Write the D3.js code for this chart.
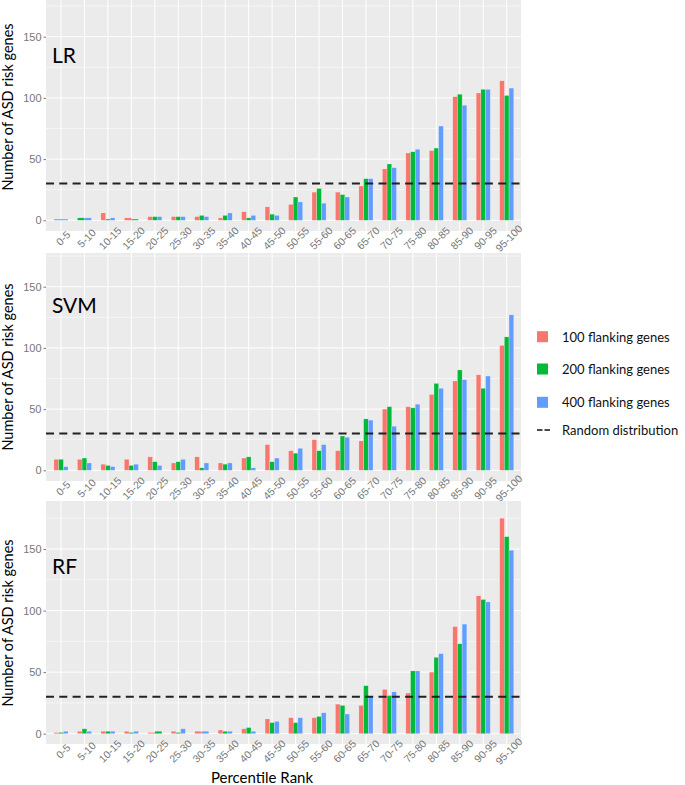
<!DOCTYPE html>
<html>
<head>
<meta charset="utf-8">
<script src="https://d3js.org/d3.v7.min.js"></script>
<style>
  body { margin: 0; background: #fff; }
  svg { display: block; }
</style>
</head>
<body>
<svg id="chart" width="685" height="785"></svg>
<script>
// percentile rank bins
var categories = ["0-5","5-10","10-15","15-20","20-25","25-30","30-35","35-40","40-45","45-50",
                  "50-55","55-60","60-65","65-70","70-75","75-80","80-85","85-90","90-95","95-100"]
var seriesNames = ["100 flanking genes","200 flanking genes","400 flanking genes"]
var seriesColors = ["#F8766D","#00BA38","#619CFF"]
var yTicks = [0, 50, 100, 150]
var yMinor = [25, 75, 125, 175]
var randomLevel = 30

// null = bin missing for that series (dodge then splits the group)
var lr100 = [null,null,6,2,3,3,3,2,7,11,13,23,23,28,42,55,57,101,104,114]
var lr200 = [null,2,1,1,3,3,4,4,2,5,19,26,21,34,46,56,59,103,107,102]
var lr400 = [1,2,2,null,3,3,3,6,4,4,15,14,19,34,43,58,77,94,107,108]

var svm100 = [9,9,5,9,11,6,11,6,10,21,16,25,16,24,50,52,62,73,78,102]
var svm200 = [9,10,4,4,7,7,2,5,11,7,14,16,28,42,52,51,71,82,67,109]
var svm400 = [3,6,3,5,4,9,6,6,2,10,18,21,27,41,36,54,67,74,77,127]

var rf100 = [1,2,2,2,1,2,2,3,4,12,13,13,24,23,36,33,50,87,112,175]
var rf200 = [1,4,2,1,2,1,null,2,5,9,9,14,23,39,31,51,62,73,109,160]
var rf400 = [2,2,2,2,null,4,2,2,2,10,13,17,16,30,34,51,65,89,107,149]

var panels = [
    {name:"LR",  data:[lr100,lr200,lr400],    top:0,   bottom:231, y0:220.3, y150:36.7,  titleY:107, labelY:63},
    {name:"SVM", data:[svm100,svm200,svm400], top:253, bottom:481, y0:470.3, y150:286.7, titleY:367, labelY:313},
    {name:"RF",  data:[rf100,rf200,rf400],    top:501, bottom:744, y0:733.7, y150:549,   titleY:623, labelY:574}
]

var textFont = "Lato, 'Open Sans', sans-serif"
var tickFont = "'Liberation Sans', Arial, sans-serif"

var svg = d3.select("#chart")
var plotLeft = 46, plotRight = 521
var x = d3.scalePoint().domain(categories).range([61, 506.7])
var groupWidth = x.step() * 0.6

panels.forEach(function(p){
    var y = d3.scaleLinear().domain([0,150]).range([p.y0, p.y150])
    var yTop = y.invert(p.top)
    var g = svg.append("g").attr("class","panel_"+p.name)

    g.append("rect")
        .attr("x", plotLeft).attr("y", p.top)
        .attr("width", plotRight-plotLeft).attr("height", p.bottom-p.top)
        .attr("fill", "#EBEBEB")

    g.selectAll(".minor").data(yMinor.filter(function(d){ return d < yTop }))
        .enter().append("line")
        .attr("x1", plotLeft).attr("x2", plotRight)
        .attr("y1", function(d){ return y(d) }).attr("y2", function(d){ return y(d) })
        .attr("stroke", "#fff").attr("stroke-width", 0.5)

    g.selectAll(".major").data(yTicks)
        .enter().append("line")
        .attr("x1", plotLeft).attr("x2", plotRight)
        .attr("y1", function(d){ return y(d) }).attr("y2", function(d){ return y(d) })
        .attr("stroke", "#fff").attr("stroke-width", 1)

    g.selectAll(".vgrid").data(categories)
        .enter().append("line")
        .attr("x1", function(d){ return x(d) }).attr("x2", function(d){ return x(d) })
        .attr("y1", p.top).attr("y2", p.bottom)
        .attr("stroke", "#fff").attr("stroke-width", 1)

    // bars, dodged within each bin
    categories.forEach(function(cat, i){
        var present = [0,1,2].filter(function(s){ return p.data[s][i] !== null })
        var inner = d3.scaleBand().domain(present)
            .range([x(cat)-groupWidth/2, x(cat)+groupWidth/2])
        g.selectAll(".bar_"+i).data(present)
            .enter().append("rect")
            .attr("x", function(s){ return inner(s) })
            .attr("width", inner.bandwidth())
            .attr("y", function(s){ return y(p.data[s][i]) })
            .attr("height", function(s){ return y(0) - y(p.data[s][i]) })
            .attr("fill", function(s){ return seriesColors[s] })
            .attr("stroke", "rgba(255,255,255,0.45)")
            .attr("stroke-width", 0.5)
    })

    g.append("line")
        .attr("x1", plotLeft).attr("x2", plotRight)
        .attr("y1", y(randomLevel)).attr("y2", y(randomLevel))
        .attr("stroke", "#222").attr("stroke-width", 2)
        .attr("stroke-dasharray", "8,5.3")

    // y axis
    var yAxis = d3.axisLeft(y).tickValues(yTicks).tickSize(2.5).tickPadding(2)
    var ya = g.append("g")
        .attr("transform", "translate(" + plotLeft + ",0)")
        .call(yAxis)
    ya.select(".domain").remove()
    ya.selectAll(".tick line").attr("stroke", "#777")
    ya.selectAll("text")
        .attr("fill", "#777")
        .style("font-family", tickFont)
        .style("font-size", "11px")

    // x tick labels, rotated
    g.selectAll(".xlab").data(categories)
        .enter().append("text")
        .attr("transform", function(d){ return "translate(" + (x(d)+2) + "," + (p.bottom+7) + ") rotate(-45)" })
        .attr("text-anchor", "middle")
        .attr("dominant-baseline", "central")
        .attr("fill", "#777")
        .style("font-family", tickFont)
        .style("font-size", "10.5px")
        .text(function(d){ return d })

    g.append("text")
        .attr("x", 52).attr("y", p.labelY)
        .style("font-family", textFont)
        .style("font-size", "21px")
        .attr("fill", "#000")
        .text(p.name)

    g.append("text")
        .attr("transform", "translate(12.5," + p.titleY + ") rotate(-90)")
        .attr("text-anchor", "middle")
        .style("font-family", textFont)
        .style("font-size", "14.5px")
        .attr("fill", "#000")
        .text("Number of ASD risk genes")
})

svg.append("text")
    .attr("x", 262).attr("y", 783)
    .attr("text-anchor", "middle")
    .style("font-family", textFont)
    .style("font-size", "15px")
    .attr("fill", "#000")
    .text("Percentile Rank")

// legend
var legendY = [336.7, 369, 402.3]
var legend = svg.append("g").attr("class","legend")
seriesNames.forEach(function(name, i){
    legend.append("rect")
        .attr("x", 537).attr("y", legendY[i]-5.5)
        .attr("width", 11).attr("height", 11)
        .attr("fill", seriesColors[i])
    legend.append("text")
        .attr("x", 562).attr("y", legendY[i])
        .attr("dominant-baseline", "central")
        .style("font-family", textFont)
        .style("font-size", "13px")
        .attr("fill", "#111")
        .text(name)
})
legend.append("line")
    .attr("x1", 537).attr("x2", 550.5)
    .attr("y1", 430).attr("y2", 430)
    .attr("stroke", "#111").attr("stroke-width", 1.6)
    .attr("stroke-dasharray", "5.5,2")
legend.append("text")
    .attr("x", 562).attr("y", 430)
    .attr("dominant-baseline", "central")
    .style("font-family", textFont)
    .style("font-size", "13px")
    .attr("fill", "#111")
    .text("Random distribution")
</script>
</body>
</html>
